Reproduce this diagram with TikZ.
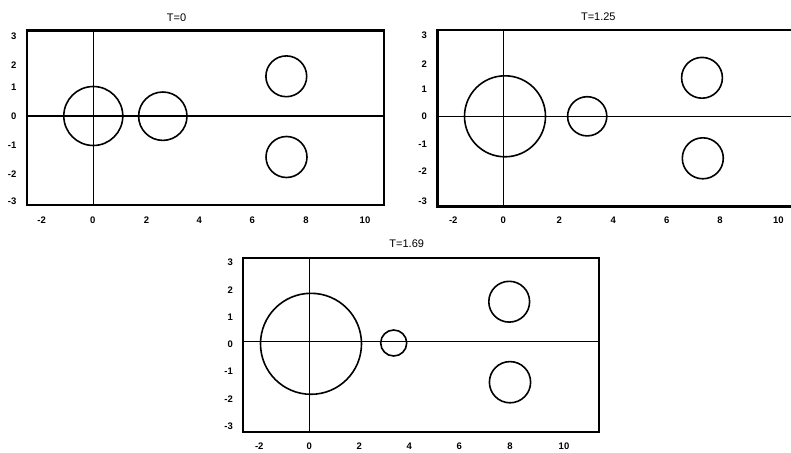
\documentclass[tikz,border=0pt]{standalone}
\usepackage{fontspec}
\setmainfont{Liberation Sans}
\begin{document}
\begin{tikzpicture}[x=1pt,y=-1pt,
  frame/.style={line width=2.1pt},
  axisline/.style={line width=1.5pt},
  disc/.style={line width=1.6pt},
  ttl/.style={font=\fontsize{11}{13}\selectfont, inner sep=0pt},
  tick/.style={font=\bfseries\fontsize{9.5}{11}\selectfont, inner sep=0pt}]
\useasboundingbox (0,0) rectangle (791,452);
% ---------- Panel 1 : T=0 ----------
\node[ttl] (t1) at (176.5,18) {T=0};
\draw[frame] (26.7,30.5) rectangle (384,205);
\draw[axisline] (93.3,30.5) -- (93.3,205);
\draw[axisline] (26.7,116) -- (384,116);
\draw[disc] (93.3,116) circle (29.5);
\draw[disc] (162.8,116.2) circle (24.2);
\draw[disc] (286.3,76.3) circle (20.4);
\draw[disc] (286.5,157) circle (20.5);
\foreach \v/\yy [count=\i] in {3/36.5,2/65,1/87.5,0/116,-1/145.7,-2/173.7,-3/201.5}
  \node[tick,anchor=east] (ya\i) at (16.5,\yy) {\v};
\foreach \v/\xx [count=\i] in {-2/41.7,0/92.7,2/146.5,4/199.3,6/252.3,8/306,10/365}
  \node[tick] (xa\i) at (\xx,220) {\v};
% ---------- Panel 2 : T=1.25 ----------
\node[ttl] (t2) at (598.3,17) {T=1.25};
\draw[frame] (437.5,30) rectangle (795,206.5);
\draw[axisline] (503.3,30) -- (503.3,206.5);
\draw[axisline] (437.5,116.3) -- (795,116.3);
\draw[disc] (505,116.3) circle (40.5);
\draw[disc] (587.2,116.3) circle (19.6);
\draw[disc] (702,77.8) circle (20.4);
\draw[disc] (702.8,158.3) circle (20.5);
\foreach \v/\yy [count=\i] in {3/35.5,2/64,1/89,0/116.5,-1/144.5,-2/171,-3/201}
  \node[tick,anchor=east] (yb\i) at (427,\yy) {\v};
\foreach \v/\xx [count=\i] in {-2/453.3,0/503.3,2/559.3,4/613.3,6/666.7,8/720,10/778.3}
  \node[tick] (xb\i) at (\xx,220) {\v};
% ---------- Panel 3 : T=1.69 ----------
\node[ttl] (t3) at (406.7,244) {T=1.69};
\draw[frame] (242.7,258.3) rectangle (599.3,431.7);
\draw[axisline] (309.3,258.3) -- (309.3,431.7);
\draw[axisline] (242.7,341.7) -- (599.3,341.7);
\draw[disc] (311,343.8) circle (50.5);
\draw[disc] (393.7,343) circle (13);
\draw[disc] (509.2,301.7) circle (20.4);
\draw[disc] (510,382.2) circle (20.6);
\foreach \v/\yy [count=\i] in {3/262.5,2/290,1/317,0/344,-1/371.5,-2/399,-3/426.5}
  \node[tick,anchor=east] (yc\i) at (233,\yy) {\v};
\foreach \v/\xx [count=\i] in {-2/259.3,0/309.3,2/359.3,4/409.3,6/459.3,8/510,10/564}
  \node[tick] (xc\i) at (\xx,446) {\v};
\end{tikzpicture}
\end{document}
